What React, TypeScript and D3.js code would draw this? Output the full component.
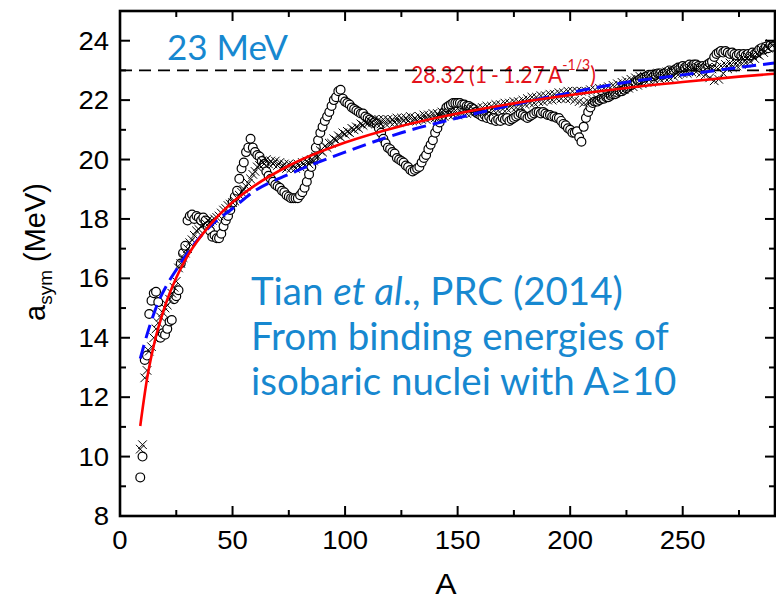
import React from "react";
import * as d3 from "d3";

// ---------- data ----------
const circleStartA = 9;
const circleVals = [
  9.3, 10.0, 13.25, 13.4, 14.8, 15.25, 15.5, 15.55, 15.2, 14.0,
  14.15, 14.1, 14.3, 14.55, 14.6, 15.3, 15.4, 15.6, 16.5, 16.85,
  17.1, 17.95, 18.1, 18.15, 18.0, 18.1, 18.05, 17.95, 18.05, 17.95,
  17.75, 17.6, 17.4, 17.45, 17.35, 17.35, 17.5, 17.75, 17.95, 18.1,
  18.3, 18.55, 18.75, 18.95, 19.35, 19.7, 19.9, 20.25, 20.4, 20.7,
  20.4, 20.25, 20.15, 20.1, 19.95, 19.85, 19.6, 19.45, 19.35, 19.25,
  19.15, 19.1, 19.05, 18.95, 18.9, 18.8, 18.75, 18.7, 18.7, 18.7,
  18.7, 18.8, 18.9, 19.05, 19.25, 19.5, 19.75, 20.05, 20.4, 20.65,
  20.9, 21.1, 21.3, 21.45, 21.6, 21.8, 22.0, 22.1, 22.3, 22.35,
  22.05, 21.95, 21.9, 21.85, 21.75, 21.7, 21.65, 21.6, 21.55, 21.55,
  21.45, 21.4, 21.35, 21.3, 21.25, 21.2, 21.05, 20.9, 20.7, 20.55,
  20.4, 20.35, 20.25, 20.2, 20.05, 20.0, 19.95, 19.9, 19.8, 19.75,
  19.65, 19.6, 19.65, 19.7, 19.75, 19.9, 20.05, 20.15, 20.35, 20.5,
  20.65, 20.9, 21.05, 21.25, 21.45, 21.6, 21.75, 21.8, 21.85, 21.9,
  21.9, 21.9, 21.9, 21.85, 21.85, 21.8, 21.8, 21.75, 21.7, 21.6,
  21.55, 21.5, 21.45, 21.5, 21.4, 21.45, 21.35, 21.4, 21.3, 21.35,
  21.3, 21.4, 21.35, 21.4, 21.3, 21.35, 21.4, 21.45, 21.5, 21.55,
  21.5, 21.45, 21.4, 21.45, 21.5, 21.55, 21.6, 21.6, 21.55, 21.6,
  21.55, 21.5, 21.5, 21.45, 21.45, 21.4, 21.4, 21.3, 21.2, 21.15,
  21.05, 21.0, 20.9, 20.9, 20.95, 20.75, 20.6, 21.1, 21.4, 21.6,
  21.75, 21.9, 21.95, 21.95, 22.0, 22.05, 22.05, 22.1, 22.1, 22.15,
  22.2, 22.2, 22.25, 22.3, 22.3, 22.35, 22.4, 22.45, 22.5, 22.55,
  22.6, 22.65, 22.7, 22.75, 22.75, 22.8, 22.85, 22.85, 22.8, 22.85,
  22.9, 22.9, 22.85, 22.9, 22.95, 23.0, 22.95, 23.0, 23.05, 23.1,
  23.1, 23.15, 23.1, 23.15, 23.2, 23.15, 23.2, 23.2, 23.15, 23.1,
  23.15, 23.1, 23.2, 23.25, 23.3, 23.45, 23.55, 23.6, 23.65, 23.6,
  23.65, 23.6, 23.55, 23.6, 23.55, 23.5, 23.55, 23.5, 23.55, 23.5,
  23.55, 23.5, 23.6, 23.55, 23.6, 23.7, 23.75, 23.7, 23.8, 23.75,
  23.85, 23.8,
];

const crossStartA = 9;
const crossVals = [
  10.25, 10.4, 12.65, 12.9, 13.55, 13.7, 14.0, 14.3, 14.5, 14.7,
  14.85, 15.0, 15.1, 15.3, 15.5, 15.7, 15.9, 16.35, 16.5, 16.7,
  16.85, 17.0, 17.2, 17.3, 17.45, 17.6, 17.65, 17.75, 17.8, 17.85,
  17.95, 17.9, 17.95, 18.0, 18.05, 18.1, 18.2, 18.3, 18.35, 18.45,
  18.5, 18.55, 18.6, 18.7, 18.8, 18.9, 19.0, 19.1, 19.2, 19.35,
  19.5, 19.6, 19.75, 19.8, 19.95, 19.85, 20.0, 19.85, 19.95, 19.85,
  19.95, 19.8, 19.9, 19.75, 19.85, 19.7, 19.85, 19.7, 19.8, 19.7,
  19.85, 19.75, 19.9, 19.8, 19.95, 19.85, 20.0, 19.95, 20.1, 20.1,
  20.3, 20.25, 20.45, 20.4, 20.55, 20.55, 20.7, 20.65, 20.8, 20.75,
  20.9, 20.85, 20.95, 20.9, 21.05, 21.0, 21.1, 21.05, 21.2, 21.15,
  21.25, 21.2, 21.3, 21.25, 21.35, 21.2, 21.35, 21.2, 21.35, 21.2,
  21.35, 21.25, 21.35, 21.25, 21.4, 21.25, 21.4, 21.3, 21.4, 21.3,
  21.45, 21.3, 21.4, 21.3, 21.45, 21.35, 21.5, 21.35, 21.5, 21.4,
  21.55, 21.4, 21.55, 21.45, 21.6, 21.45, 21.6, 21.5, 21.6, 21.5,
  21.65, 21.5, 21.65, 21.55, 21.7, 21.55, 21.7, 21.55, 21.7, 21.6,
  21.75, 21.6, 21.75, 21.6, 21.8, 21.6, 21.8, 21.65, 21.85, 21.65,
  21.85, 21.7, 21.9, 21.7, 21.9, 21.75, 21.95, 21.75, 21.95, 21.8,
  22.0, 21.85, 22.05, 21.9, 22.1, 21.9, 22.1, 21.95, 22.15, 21.95,
  22.15, 22.0, 22.2, 22.0, 22.2, 22.05, 22.25, 22.05, 22.25, 22.05,
  22.3, 22.05, 22.3, 22.0, 22.3, 21.95, 22.3, 21.9, 22.3, 21.95,
  22.35, 22.0, 22.35, 22.05, 22.4, 22.1, 22.4, 22.15, 22.45, 22.2,
  22.5, 22.25, 22.55, 22.3, 22.6, 22.35, 22.65, 22.4, 22.7, 22.45,
  22.75, 22.5, 22.8, 22.55, 22.8, 22.6, 22.85, 22.6, 22.85, 22.65,
  22.9, 22.7, 22.9, 22.75, 22.95, 22.75, 23.0, 22.8, 23.0, 22.85,
  23.05, 22.9, 23.05, 22.9, 23.1, 22.95, 23.1, 22.95, 23.1, 22.9,
  23.1, 22.85, 23.1, 22.75, 23.05, 22.65, 23.1, 22.7, 23.15, 22.9,
  23.2, 23.05, 23.25, 23.1, 23.3, 23.15, 23.35, 23.2, 23.4, 23.25,
  23.45, 23.3, 23.5, 23.4, 23.55, 23.5, 23.7, 23.6, 23.8, 23.75,
  23.9, 23.85,
];

// red fit curve 28.32(1-1.27A^-1/3)
const redA = [9, 12, 15, 20, 25, 30, 40, 50, 60, 75, 100, 125, 150, 175, 200, 225, 250, 275, 291];
const redV = [11.03, 12.61, 13.74, 15.07, 16.02, 16.75, 17.8, 18.56, 19.13, 19.79, 20.57, 21.13, 21.55, 21.89, 22.17, 22.41, 22.61, 22.79, 22.89];

// blue dashed curve
const blueA = [9, 13, 17, 21, 26, 30, 40, 50, 60, 75, 100, 125, 150, 175, 200, 225, 250, 275, 291];
const blueV = [13.3, 14.35, 15.2, 15.8, 16.4, 16.85, 17.75, 18.35, 18.95, 19.5, 20.25, 20.9, 21.4, 21.85, 22.25, 22.6, 22.85, 23.1, 23.25];

const refLineValue = 23;
const xMajorTicks = [0, 50, 100, 150, 200, 250];
const xMinorTicks = [25, 75, 125, 175, 225, 275];
const yMajorTicks = [8, 10, 12, 14, 16, 18, 20, 22, 24];
const yMinorTicks = [9, 11, 13, 15, 17, 19, 21, 23, 25];

const BLUE_TEXT = "#1788d0";

export default function App() {
  const W = 776, H = 601;
  const L = 120, R = 775, T = 11, B = 516;
  const x = d3.scaleLinear().domain([0, 291]).range([L, R]);
  const y = d3.scaleLinear().domain([8, 25]).range([B, T]);

  const circles = circleVals.map((v, i) => ({ a: circleStartA + i, v }));
  const crosses = crossVals.map((v, i) => ({ a: crossStartA + i, v }));

  const line = d3
    .line<[number, number]>()
    .x((d) => x(d[0]))
    .y((d) => y(d[1]))
    .curve(d3.curveMonotoneX);
  const redPath = line(redA.map((a, i) => [a, redV[i]]))!;
  const bluePath = line(blueA.map((a, i) => [a, blueV[i]]))!;

  const tickFont = "'Liberation Sans', Arial, sans-serif";
  const blueFont = "Lato, 'Open Sans', sans-serif";
  const cs = 4.3;

  return (
    <svg width={W} height={H} style={{ position: "absolute", left: 0, top: 0, background: "#fff" }}>
      <rect x={0} y={0} width={W} height={H} fill="#fff" />
      {/* texts in plot */}
      <text x={167} y={60} fill={BLUE_TEXT} fontFamily={blueFont} fontSize={35}>
        23 MeV
      </text>
      <text transform="translate(411,83) scale(0.88,1)" fill="#e3121b" fontFamily={blueFont} fontSize={24} wordSpacing={-1.5}>
        28.32 (1 - 1.27 A
        <tspan dy={-13} fontSize={16}>-1/3</tspan>
        <tspan dy={13}>)</tspan>
      </text>
      {/* reference dashed line */}
      <line x1={L} x2={R} y1={y(refLineValue)} y2={y(refLineValue)} stroke="#000" strokeWidth={1.6} strokeDasharray="12 7" />

      <g fill={BLUE_TEXT} fontFamily={blueFont} fontSize={38.5}>
        <text x={251} y={305}>
          Tian <tspan fontStyle="italic">et al</tspan>., PRC (2014)
        </text>
        <text x={251} y={350}>From binding energies of</text>
        <text x={251} y={395}>isobaric nuclei with A≥10</text>
      </g>

      {/* circles */}
      <g fill="#fff" stroke="#000" strokeWidth={1.2}>
        {circles.map((d) => (
          <circle key={"c" + d.a} cx={x(d.a)} cy={y(d.v)} r={4.4} />
        ))}
      </g>
      {/* crosses */}
      <g stroke="#000" strokeWidth={1} fill="none">
        {crosses.map((d) => (
          <path
            key={"x" + d.a}
            d={`M${x(d.a) - cs},${y(d.v) - cs}L${x(d.a) + cs},${y(d.v) + cs}M${x(d.a) - cs},${y(d.v) + cs}L${x(d.a) + cs},${y(d.v) - cs}`}
          />
        ))}
      </g>

      {/* curves */}
      <path d={bluePath} fill="none" stroke="#0a0aff" strokeWidth={3} strokeDasharray="14 7" />
      <path d={redPath} fill="none" stroke="#ff0000" strokeWidth={2.6} />

      {/* axes frame */}
      <rect x={L} y={T} width={R - L} height={B - T} fill="none" stroke="#000" strokeWidth={2.6} />
      <g stroke="#000" strokeWidth={2}>
        {xMajorTicks.map((t) => (
          <g key={"xM" + t}>
            <line x1={x(t)} x2={x(t)} y1={B} y2={B - 10} />
            <line x1={x(t)} x2={x(t)} y1={T} y2={T + 10} />
          </g>
        ))}
        {xMinorTicks.map((t) => (
          <g key={"xm" + t}>
            <line x1={x(t)} x2={x(t)} y1={B} y2={B - 6} />
            <line x1={x(t)} x2={x(t)} y1={T} y2={T + 6} />
          </g>
        ))}
        {yMajorTicks.map((t) => (
          <g key={"yM" + t}>
            <line x1={L} x2={L + 10} y1={y(t)} y2={y(t)} />
            <line x1={R} x2={R - 10} y1={y(t)} y2={y(t)} />
          </g>
        ))}
        {yMinorTicks.map((t) => (
          <g key={"ym" + t}>
            <line x1={L} x2={L + 6} y1={y(t)} y2={y(t)} />
            <line x1={R} x2={R - 6} y1={y(t)} y2={y(t)} />
          </g>
        ))}
      </g>

      {/* tick labels */}
      <g fontFamily={tickFont} fontSize={25} fill="#000">
        {xMajorTicks.map((t) => (
          <text key={"xl" + t} transform={`translate(${x(t)},${549}) scale(1.1,1)`} textAnchor="middle">
            {t}
          </text>
        ))}
        {yMajorTicks.map((t) => (
          <text key={"yl" + t} transform={`translate(${109},${y(t) + 9}) scale(1.1,1)`} textAnchor="end">
            {t}
          </text>
        ))}
      </g>

      {/* axis titles */}
      <text transform={`translate(446,594) scale(1.1,1)`} textAnchor="middle" fontFamily={tickFont} fontSize={29}>
        A
      </text>
      <text transform={`translate(45,252) rotate(-90)`} textAnchor="middle" fontFamily={tickFont} fontSize={29}>
        a<tspan dy={7} fontSize={19}>sym</tspan>
        <tspan dy={-7}> (MeV)</tspan>
      </text>
    </svg>
  );
}
